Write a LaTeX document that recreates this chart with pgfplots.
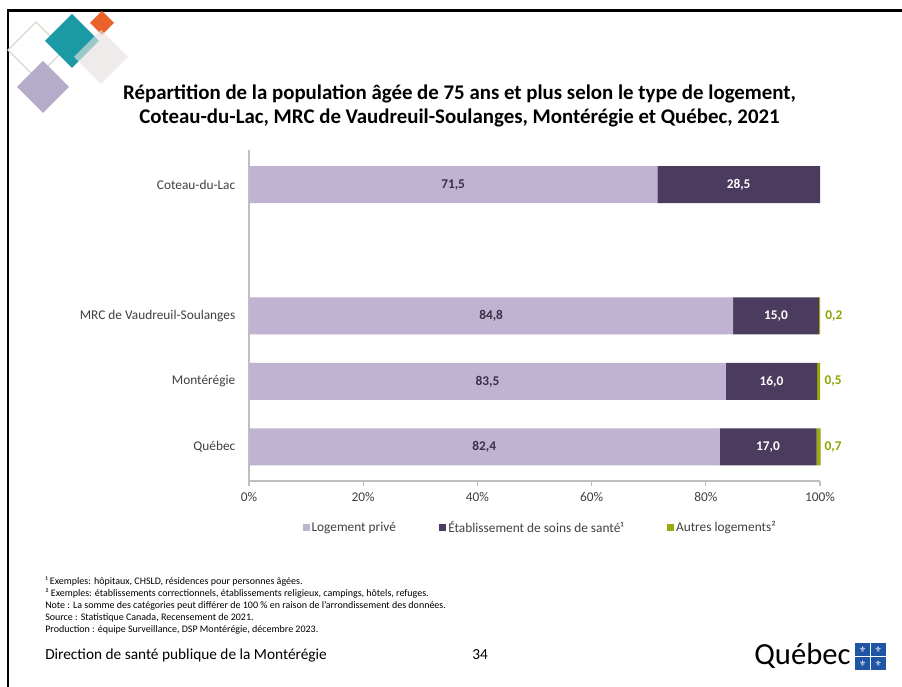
\documentclass[border=0pt]{standalone}
\usepackage{fontspec}
\setmainfont{Carlito}
\newfontfamily\dejavu{DejaVu Sans}
\usepackage{pgfplots}
\pgfplotsset{compat=1.18}
\usepackage{pgfplotstable}

\definecolor{prive}{HTML}{C0B2D1}
\definecolor{etab}{HTML}{4B3B5E}
\definecolor{autres}{HTML}{9BAA0A}
\definecolor{autrestxt}{HTML}{8FA300}
\definecolor{axisgray}{HTML}{BFBFBF}
\definecolor{txt}{HTML}{404040}
\definecolor{lbl}{HTML}{3A2F48}
\definecolor{teal}{HTML}{1B9AA6}
\definecolor{orng}{HTML}{E8622A}
\definecolor{lilac}{HTML}{B5ACC9}
\definecolor{lgray}{HTML}{E6E1DF}
\definecolor{outl}{HTML}{D3DBCD}
\definecolor{qblue}{HTML}{1F56A3}

\pgfplotstableread{
pos prive etab autres
0 82.4 17.0 0.7
1 83.5 16.0 0.5
2 84.8 15.0 0.2
4 71.5 28.5 0
}\data

\begin{document}
\begin{tikzpicture}[x=0.75pt,y=0.75pt]
\path[use as bounding box, fill=white] (0,0) rectangle (902,686);
% slide frame
\draw[line width=2.2pt] (8,-10) -- (8,675.5) -- (915,675.5);
% decorative logo
\draw[outl, line width=1pt] (36,664) -- (64,636) -- (36,608) -- (8,636) -- cycle;
\fill[lilac] (43,625) -- (69,599) -- (43,573) -- (17,599) -- cycle;
\fill[teal] (72,672) -- (99,645) -- (72,618) -- (45,645) -- cycle;
\fill[orng] (102,675) -- (114,663) -- (102,651) -- (90,663) -- cycle;
\fill[lgray, opacity=0.65] (101,656) -- (128,629) -- (101,602) -- (74,629) -- cycle;
% title
\node[align=center, font=\bfseries\fontsize{15.65}{18}\selectfont, text=black] at (459.5,580)
 {Répartition de la population âgée de 75 ans et plus selon le type de logement,\\
  Coteau-du-Lac, MRC de Vaudreuil-Soulanges, Montérégie et Québec, 2021};

\begin{axis}[
  at={(186.75pt,153.75pt)}, anchor=south west,
  scale only axis, width=428.25pt, height=248.25pt,
  xbar stacked, bar width=27.75pt,
  xmin=0, xmax=100, ymin=-0.52, ymax=4.53,
  axis x line*=bottom, axis y line*=left,
  axis line style={axisgray, line width=0.8pt},
  xtick={0,20,40,60,80,100},
  xticklabels={0\%,20\%,40\%,60\%,80\%,100\%},
  ytick={0,1,2,4},
  yticklabels={Québec,Montérégie,MRC de Vaudreuil-Soulanges,Coteau-du-Lac},
  tick align=outside, major tick length=3.75pt,
  xtick style={axisgray, line width=0.8pt},
  ytick style={draw=none},
  tick label style={font=\fontsize{10}{12}\selectfont, text=txt},
  xticklabel style={yshift=-1.5pt},
  yticklabel style={xshift=-3pt},
  /pgf/number format/assume math mode=true,
  legend columns=3,
  legend style={at={(0.51,-0.141)}, anchor=center, draw=none,
    font=\fontsize{10}{12}\selectfont, text=txt,
    nodes={inner sep=1.5pt},
    /tikz/every even column/.append style={column sep=31pt}},
  legend image code/.code={\fill[#1] (-1.2pt,-2.6pt) rectangle (4.05pt,2.6pt);},
  clip=false,
]
\addplot[fill=prive, draw=none,
  visualization depends on={\thisrow{prive} \as \val},
  nodes near coords={\pgfmathprintnumber[fixed,fixed zerofill,precision=1,use comma]{\val}},
  every node near coord/.append style={anchor=center,
    font=\bfseries\fontsize{10}{12}\selectfont, text=lbl}]
  table[x=prive, y=pos] {\data};
\addplot[fill=etab, draw=none,
  visualization depends on={\thisrow{etab} \as \val},
  nodes near coords={\pgfmathprintnumber[fixed,fixed zerofill,precision=1,use comma]{\val}},
  every node near coord/.append style={anchor=center,
    font=\bfseries\fontsize{10}{12}\selectfont, text=white}]
  table[x=etab, y=pos] {\data};
\addplot[fill=autres, draw=none,
  visualization depends on={\thisrow{autres} \as \av},
  nodes near coords={\ifdim\av pt>0.01pt \pgfmathprintnumber[fixed,fixed zerofill,precision=1,use comma]{\av}\fi},
  every node near coord/.append style={anchor=west, xshift=1pt,
    font=\bfseries\fontsize{10}{12}\selectfont, text=autrestxt}]
  table[x=autres, y=pos] {\data};
\legend{Logement privé, Établissement de soins de santé¹, Autres logements²}
\end{axis}

% footnotes
\node[anchor=north west, align=left, font=\fontsize{7.5}{9}\selectfont, text=black, inner sep=0pt] at (45,109.5)
 {¹ Exemples: hôpitaux, CHSLD, résidences pour personnes âgées.\\
  ² Exemples: établissements correctionnels, établissements religieux, campings, hôtels, refuges.\\
  Note : La somme des catégories peut différer de 100 \% en raison de l'arrondissement des données.\\
  Source : Statistique Canada, Recensement de 2021.\\
  Production : équipe Surveillance, DSP Montérégie, décembre 2023.};
\node[anchor=west, inner sep=0pt, font=\fontsize{11.5}{14}\selectfont, text=black] at (45,31) {Direction de santé publique de la Montérégie};
\node[anchor=west, inner sep=0pt, font=\fontsize{11.5}{14}\selectfont, text=black] at (472,31) {34};
% Québec signature
\node[anchor=west, inner sep=0pt, font=\fontsize{23}{26}\selectfont, text=black] at (754,30) {Québec};
\fill[qblue] (855,16) rectangle (886,43);
\draw[white, line width=1.4pt] (870.5,16) -- (870.5,43) (855,29.5) -- (886,29.5);
\foreach \cx/\cy in {862.75/36.25, 878.25/36.25, 862.75/22.75, 878.25/22.75}
  \node[text=white, font=\dejavu\fontsize{6}{6}\selectfont, inner sep=0pt] at (\cx,\cy) {⚜};
\end{tikzpicture}
\end{document}
